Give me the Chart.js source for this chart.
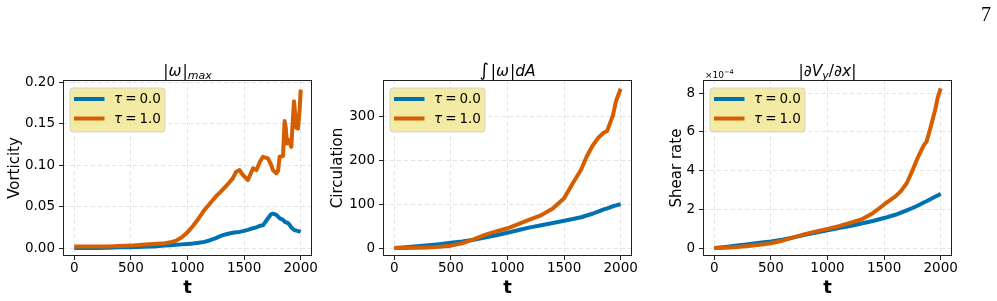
<!DOCTYPE html>
<html><head><meta charset="utf-8">
<script src="https://cdn.jsdelivr.net/npm/chart.js@4"></script>
<style>
html,body{margin:0;padding:0;background:#fff;}
#wrap{position:relative;width:997px;height:301px;overflow:hidden;background:#fff;}
canvas{position:absolute;left:0;top:0;}
#page{position:absolute;left:981px;top:4px;font-family:"Liberation Serif",serif;font-size:20px;line-height:20px;color:#000;}
</style></head><body>
<div id="wrap">
<canvas id="c1" width="997" height="301"></canvas>
<canvas id="c2" width="997" height="301"></canvas>
<canvas id="c3" width="997" height="301"></canvas>
<div id="page">7</div>
</div>
<script>
// ---------- data ----------
const xTicks = [0, 500, 1000, 1500, 2000];
const seriesLabels = ['τ = 0.0', 'τ = 1.0'];
const seriesColors = ['#0072B2', '#D55E00'];

// panel 1: |ω|max  (Vorticity)
const tVort = [0,100,200,300,400,500,600,700,800,850,900,950,1000,1050,1100,1150,1200,1250,1300,1350,1400,1430,1460,1490,1534,1578,1608,1640,1667,1711,1740,1755,1785,1800,1814,1844,1858,1868,1879,1897,1917,1941,1962,1976,1991,2000];
const vortTau0 = [0,0,0,0.0005,0.001,0.001,0.0015,0.002,0.003,0.0035,0.004,0.0045,0.005,0.0055,0.0065,0.0075,0.0095,0.012,0.015,0.017,0.0185,0.019,0.0195,0.0205,0.022,0.024,0.025,0.027,0.0275,0.036,0.041,0.0415,0.040,0.038,0.036,0.034,0.032,0.031,0.031,0.029,0.025,0.022,0.021,0.0205,0.020,0.0195];
const vortTau1 = [0.002,0.002,0.002,0.002,0.0025,0.003,0.004,0.005,0.006,0.007,0.009,0.013,0.019,0.027,0.036,0.046,0.054,0.062,0.069,0.076,0.084,0.092,0.094,0.088,0.082,0.096,0.094,0.104,0.110,0.108,0.100,0.094,0.090,0.093,0.110,0.111,0.153,0.145,0.126,0.130,0.122,0.177,0.145,0.144,0.167,0.191];
const vortTicks = [0, 0.05, 0.10, 0.15, 0.20];

// panel 2: ∫|ω|dA  (Circulation)
const tCirc = [0,100,200,300,400,500,600,700,800,900,1000,1100,1200,1300,1400,1500,1578,1650,1700,1750,1800,1850,1880,1900,1930,1960,2000];
const circTau0 = [0,2,4,6.5,9,12,15,19,24,29,35,41,47,52,57,62,66,70,74,78,83,88,90,92,95,97,100];
const circTau1 = [0,0,0.5,1.5,3,5.5,11,20,30,38,45,55,65,75,90,113,148,178,208,232,250,262,266,280,300,335,362];
const circTicks = [0, 100, 200, 300];

// panel 3: |∂Vy/∂x|  (Shear rate, in units of 1e-4)
const tShear = [0,100,200,300,400,500,600,700,800,900,1000,1100,1200,1300,1400,1500,1600,1650,1700,1750,1800,1850,1875,1900,1950,1975,2000];
const shearTau0 = [0,0.06,0.13,0.2,0.27,0.34,0.43,0.55,0.68,0.8,0.92,1.03,1.14,1.27,1.4,1.55,1.72,1.83,1.95,2.07,2.2,2.35,2.42,2.5,2.65,2.72,2.8];
const shearTau1 = [0,0.02,0.06,0.11,0.17,0.25,0.38,0.55,0.72,0.86,0.99,1.13,1.3,1.48,1.8,2.25,2.67,2.95,3.35,4.0,4.7,5.3,5.5,6.0,7.1,7.8,8.25];
const shearTicks = [0, 2, 4, 6, 8];

// ---------- helpers ----------
const FONT = 'DejaVu Sans';
function pts(t, v){ return t.map((x,i)=>({x:x, y:v[i]})); }

function drawRich(ctx, pieces, cx, baseline){
  let w = 0;
  pieces.forEach(p=>{ ctx.font = p.font; p.w = ctx.measureText(p.t).width + (p.gap||0); w += p.w; });
  let x = cx - w/2;
  ctx.textAlign = 'left'; ctx.textBaseline = 'alphabetic'; ctx.fillStyle = '#000';
  pieces.forEach(p=>{ ctx.font = p.font; ctx.fillText(p.t, x, baseline + (p.dy||0)); x += p.w; });
}

function roundRect(ctx, x, y, w, h, r){
  ctx.beginPath();
  ctx.moveTo(x+r, y); ctx.lineTo(x+w-r, y); ctx.arcTo(x+w, y, x+w, y+r, r);
  ctx.lineTo(x+w, y+h-r); ctx.arcTo(x+w, y+h, x+w-r, y+h, r);
  ctx.lineTo(x+r, y+h); ctx.arcTo(x, y+h, x, y+h-r, r);
  ctx.lineTo(x, y+r); ctx.arcTo(x, y, x+r, y, r);
  ctx.closePath();
}

const decor = {
  id: 'decor',
  afterDraw(chart, args, opts){
    const ctx = chart.ctx, a = chart.chartArea;
    ctx.save();
    // frame
    ctx.strokeStyle = '#222'; ctx.lineWidth = 1;
    ctx.strokeRect(Math.round(a.left)+0.5, Math.round(a.top)+0.5, Math.round(a.right-a.left)-1, Math.round(a.bottom-a.top)-1);
    // legend box
    const lx = a.left + 7, ly = a.top + 8, lw = 95, lh = 44;
    roundRect(ctx, lx, ly, lw, lh, 3);
    ctx.fillStyle = 'rgba(240,230,140,0.8)'; ctx.fill();
    ctx.strokeStyle = 'rgba(204,204,204,0.8)'; ctx.lineWidth = 1; ctx.stroke();
    // legend entries
    chart.data.datasets.forEach((ds, i)=>{
      const y = ly + 11 + i*19.5;
      ctx.beginPath(); ctx.moveTo(lx+4, y); ctx.lineTo(lx+34.5, y);
      ctx.strokeStyle = ds.borderColor; ctx.lineWidth = 4; ctx.lineCap = 'butt'; ctx.stroke();
      const parts = ds.label.split(' = ');
      ctx.fillStyle = '#000'; ctx.textBaseline = 'middle'; ctx.textAlign = 'left';
      let x = lx + 44;
      ctx.font = 'italic 13.5px ' + FONT; ctx.fillText(parts[0], x, y+0.5); x += ctx.measureText(parts[0]).width + 3;
      ctx.font = '13.5px ' + FONT; ctx.fillText('=', x, y+0.5); x += ctx.measureText('=').width + 3;
      ctx.fillText(parts[1], x, y+0.5);
    });
    // title
    drawRich(ctx, opts.title, (a.left+a.right)/2, 76);
    // offset text
    if (opts.offset){
      ctx.fillStyle = '#000'; ctx.textAlign='left'; ctx.textBaseline='alphabetic';
      ctx.font = '9px ' + FONT; ctx.fillText('×10', a.left+2, 78);
      const w = ctx.measureText('×10').width;
      ctx.font = '6.5px ' + FONT; ctx.fillText('−4', a.left+2+w, 74);
    }
    ctx.restore();
  }
};

function makeChart(id, cfg){
  const padLeft = cfg.yTitleCenter - 9;
  const yWidth = cfg.areaLeft - padLeft;
  return new Chart(document.getElementById(id), {
    type: 'line',
    data: { datasets: [
      { label: seriesLabels[0], data: pts(cfg.t, cfg.s0), borderColor: seriesColors[0], order: 1 },
      { label: seriesLabels[1], data: pts(cfg.t, cfg.s1), borderColor: seriesColors[1], order: 0 }
    ]},
    options: {
      responsive: false, animation: false, devicePixelRatio: 1,
      parsing: false,
      elements: { point: { radius: 0 }, line: { borderWidth: 4, tension: 0, borderJoinStyle: 'round', borderCapStyle: 'butt', fill: false } },
      layout: { padding: { left: padLeft, right: 997 - cfg.areaRight, top: 80, bottom: 0 } },
      plugins: { legend: { display: false }, title: { display: false }, tooltip: { enabled: false },
        decor: { title: cfg.title, offset: cfg.offset } },
      scales: {
        x: {
          type: 'linear', min: -100, max: 2100,
          afterBuildTicks: s => { s.ticks = xTicks.map(v=>({value:v})); },
          afterFit: s => { s.height = 45; },
          grid: { color: '#dcdcdc', lineWidth: 0.8, drawTicks: true, tickLength: 4, tickColor: '#222', tickWidth: 1 },
          border: { display: false, dash: [4, 3] },
          ticks: { color: '#000', font: { family: FONT, size: 13.5 }, padding: 0, maxRotation: 0, callback: v => String(v) },
          title: { display: true, text: 't', color: '#000', font: { family: FONT, size: 18, weight: 'bold' }, padding: { top: 0, bottom: 2 } }
        },
        y: {
          type: 'linear', min: cfg.yMin, max: cfg.yMax,
          afterBuildTicks: s => { s.ticks = cfg.yTicks.map(v=>({value:v})); },
          afterFit: s => { s.width = yWidth; },
          grid: { color: '#dcdcdc', lineWidth: 0.8, drawTicks: true, tickLength: 4, tickColor: '#222', tickWidth: 1 },
          border: { display: false, dash: [4, 3] },
          ticks: { color: '#000', font: { family: FONT, size: 13.5 }, padding: 4, callback: cfg.fmt },
          title: { display: true, text: cfg.yTitle, color: '#000', font: { family: FONT, size: 15 }, padding: 0 }
        }
      }
    },
    plugins: [decor]
  });
}

const F = '15.5px ' + FONT, FI = 'italic 15.5px ' + FONT, FS = 'italic 11px ' + FONT;

makeChart('c1', {
  t: tVort, s0: vortTau0, s1: vortTau1, yTicks: vortTicks,
  yMin: -0.0095, yMax: 0.2025, areaLeft: 63, areaRight: 312, yTitleCenter: 15,
  yTitle: 'Vorticity', fmt: v => v.toFixed(2),
  title: [ {t:'|', font:F}, {t:'ω', font:FI, gap:1}, {t:'|', font:F}, {t:'max', font:FS, dy:3} ]
});
makeChart('c2', {
  t: tCirc, s0: circTau0, s1: circTau1, yTicks: circTicks,
  yMin: -18, yMax: 382, areaLeft: 383, areaRight: 632, yTitleCenter: 338,
  yTitle: 'Circulation', fmt: v => String(v),
  title: [ {t:'∫', font:'18px '+FONT, gap:2}, {t:'|', font:F}, {t:'ω', font:FI, gap:1}, {t:'|', font:F}, {t:'dA', font:FI} ]
});
makeChart('c3', {
  t: tShear, s0: shearTau0, s1: shearTau1, yTicks: shearTicks,
  yMin: -0.41, yMax: 8.68, areaLeft: 703, areaRight: 952, yTitleCenter: 677,
  yTitle: 'Shear rate', fmt: v => String(v), offset: true,
  title: [ {t:'|', font:F}, {t:'∂', font:FI}, {t:'V', font:FI}, {t:'y', font:FS, dy:3}, {t:'/', font:F}, {t:'∂', font:FI}, {t:'x', font:FI}, {t:'|', font:F} ]
});
</script>
</body></html>
